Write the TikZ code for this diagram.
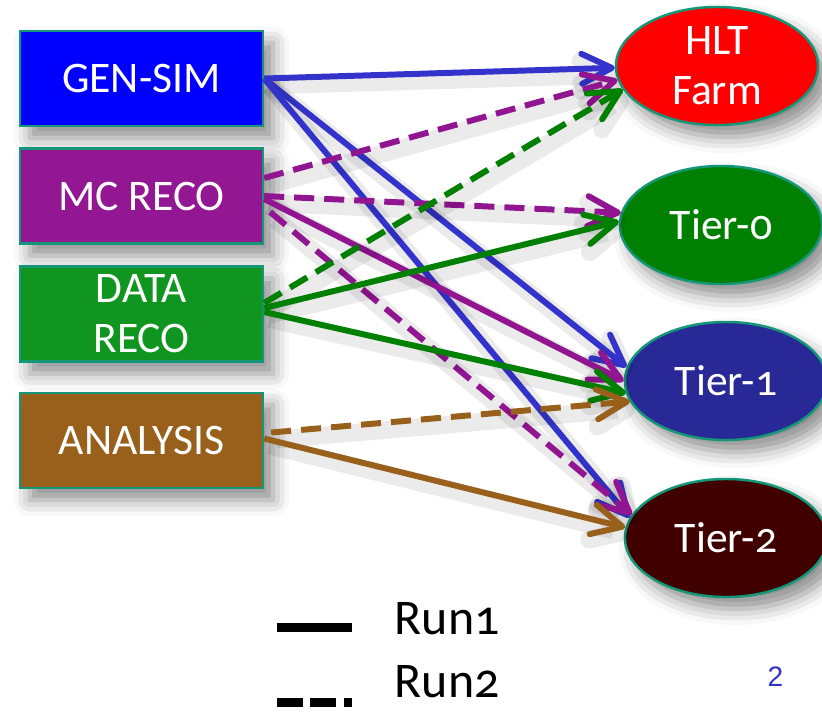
\documentclass[tikz,border=0pt]{standalone}
\usepackage{fontspec}
\setmainfont{Carlito}
\newfontfamily\oldfigs{Carlito}[Numbers=OldStyle]
\newfontfamily\pagefont{Liberation Sans}
\usetikzlibrary{positioning, arrows.meta, shapes.geometric, shadows.blur}

\definecolor{EdgeTeal}{RGB}{20,150,120}
\definecolor{GenSimBox}{RGB}{0,0,255}
\definecolor{GenSimLine}{RGB}{51,51,204}
\definecolor{McRecoBox}{RGB}{147,22,147}
\definecolor{McRecoLine}{RGB}{145,20,145}
\definecolor{DataRecoBox}{RGB}{16,150,32}
\definecolor{DataRecoLine}{RGB}{0,128,0}
\definecolor{AnalysisBox}{RGB}{153,96,28}
\definecolor{AnalysisLine}{RGB}{153,96,28}
\definecolor{HltRed}{RGB}{255,0,0}
\definecolor{TierZero}{RGB}{0,128,0}
\definecolor{TierOne}{RGB}{40,40,150}
\definecolor{TierTwo}{RGB}{64,0,0}
\definecolor{PageBlue}{RGB}{50,50,200}

\tikzset{
  softshadow/.style={blur shadow={shadow xshift=0.1cm, shadow yshift=-0.12cm, shadow blur radius=0.16cm, shadow opacity=45}},
  jobbox/.style={rectangle, draw=EdgeTeal, line width=0.6pt, minimum width=2.43cm, minimum height=0.95cm,
    inner sep=0pt, text=white, align=center, font=\fontsize{12.4}{14.2}\selectfont, softshadow},
  site/.style={ellipse, draw=EdgeTeal, line width=0.7pt, minimum width=2.02cm, minimum height=1.18cm,
    inner sep=0pt, text=white, align=center, font=\fontsize{12.4}{14.2}\selectfont, softshadow},
  link/.style={line width=1.7pt, -{Straight Barb[length=3mm, width=3mm, round]},
    preaction={draw=black, draw opacity=0.08, line width=5pt, transform canvas={shift={(0.05cm,-0.07cm)}}}},
  runone/.style={link},
  runtwo/.style={link, dash pattern=on 5.7pt off 2.85pt},
  legline/.style={line width=2.4pt, black},
  legtext/.style={anchor=base west, inner sep=0pt, font=\fontsize{14.2}{16}\selectfont}
}

\begin{document}
\begin{tikzpicture}[x=0.01cm, y=-0.01cm]
  \useasboundingbox (0,0) rectangle (822,711);

  % producing activities
  \node[jobbox, fill=GenSimBox]   (gensim)   at (141.5,78.5)  {GEN-SIM};
  \node[jobbox, fill=McRecoBox]   (mcreco)   at (141.5,196)   {MC RECO};
  \node[jobbox, fill=DataRecoBox] (datareco) at (141.5,314)   {DATA\\RECO};
  \node[jobbox, fill=AnalysisBox] (analysis) at (141.5,440.5) {ANALYSIS};

  % computing sites
  \node[site, fill=HltRed]   (hlt)   at (717,66)  {HLT\\Farm};
  \node[site, fill=TierZero] (tierA) at (721,225) {\oldfigs Tier-0};
  \node[site, fill=TierOne]  (tierB) at (726,381) {\oldfigs Tier-1};
  \node[site, fill=TierTwo]  (tierC) at (726,538) {\oldfigs Tier-2};

  % GEN-SIM
  \draw[runone, GenSimLine] (gensim.east) -- (hlt.181);
  \draw[runone, GenSimLine] (gensim.east) -- (tierB.172);
  \draw[runone, GenSimLine] (gensim.east) -- (tierC.168);
  % MC RECO
  \draw[runtwo, McRecoLine] ([yshift=0.18cm]mcreco.east) -- (hlt.188);
  \draw[runtwo, McRecoLine] (mcreco.east) -- (tierA.173);
  \draw[runone, McRecoLine] ([yshift=-0.03cm]mcreco.east) -- (tierB.180);
  \draw[runtwo, McRecoLine] ([xshift=0.06cm, yshift=-0.16cm]mcreco.east) -- (tierC.166);
  % DATA RECO
  \draw[runtwo, DataRecoLine] ([yshift=0.11cm]datareco.east) -- (hlt.194);
  \draw[runone, DataRecoLine] ([yshift=0.06cm]datareco.east) -- (tierA.178);
  \draw[runone, DataRecoLine] ([yshift=0.02cm]datareco.east) -- (tierB.187);
  % ANALYSIS
  \draw[runtwo, AnalysisLine] ([xshift=0.07cm, yshift=0.08cm]analysis.east) -- (tierB.192);
  \draw[runone, AnalysisLine] ([yshift=0.02cm]analysis.east) -- (tierC.174);

  % legend
  \coordinate (solidA) at (277,627.5);
  \coordinate (solidB) at (352,627.5);
  \coordinate (dashA) at (277,702.5);
  \coordinate (dashB) at (352,702.5);
  \draw[legline] (solidA) -- (solidB);
  \draw[legline, dash pattern=on 7.4pt off 2.1pt] (dashA) -- (dashB);
  \node[legtext] (runA) at (394,634) {R\oldfigs un1};
  \node[legtext] (runB) at (394,697) {R\oldfigs un2};

  \node[text=PageBlue, font=\pagefont\fontsize{8}{9}\selectfont] (pagenum) at (775.5,677) {2};
\end{tikzpicture}
\end{document}
